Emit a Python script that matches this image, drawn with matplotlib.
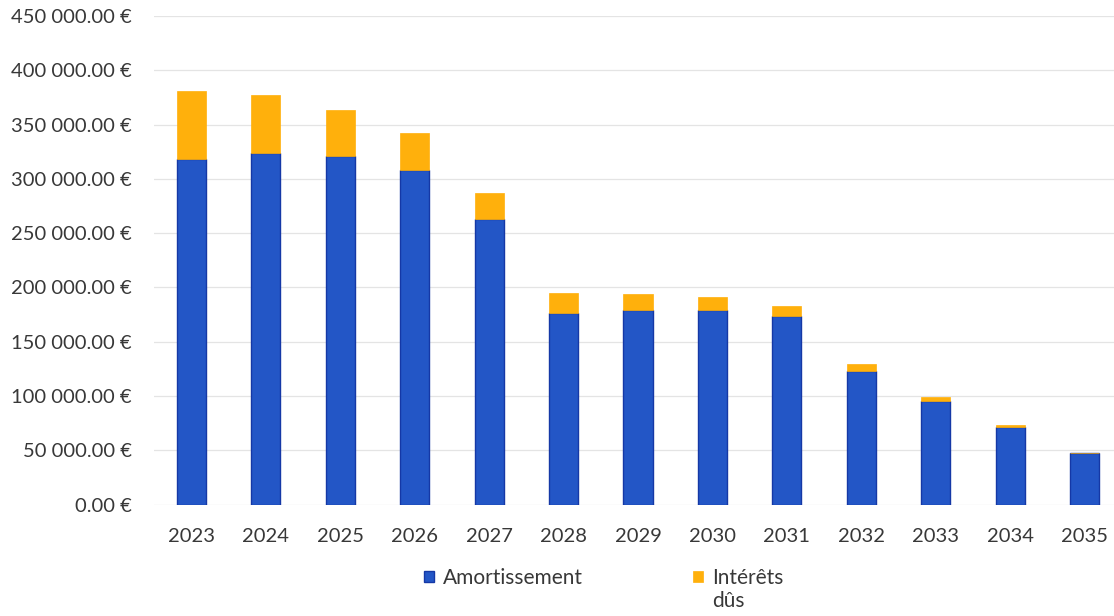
import matplotlib.pyplot as plt
from matplotlib.ticker import FuncFormatter, MultipleLocator

years = ['2023', '2024', '2025', '2026', '2027', '2028', '2029',
         '2030', '2031', '2032', '2033', '2034', '2035']
amortissement = [318300, 323800, 320700, 308100, 262700, 176700, 178900,
                 178900, 173900, 123300, 95100, 71400, 47200]
interets = [62900, 53100, 43000, 34100, 24000, 18400, 15300,
            12000, 8700, 6100, 4200, 2100, 300]

plt.rcParams['font.family'] = ['Lato', 'DejaVu Sans']

blue = '#2356c6'
orange = '#ffb00c'
text_col = '#383838'

fig = plt.figure(figsize=(11.14, 6.16), dpi=100)
ax = fig.add_axes([0.1382, 0.181, 0.869, 0.793])

x = range(len(years))
b1 = ax.bar(x, amortissement, width=0.39, color=blue, edgecolor='#1538a6',
            linewidth=1, label='Amortissement', zorder=3)
b2 = ax.bar(x, interets, width=0.39, bottom=amortissement, color=orange,
            edgecolor=orange, linewidth=0.5, label='Intérêts', zorder=3)

ax.set_xlim(-0.5, len(years) - 0.5)
ax.set_ylim(0, 450000)
ax.yaxis.set_major_locator(MultipleLocator(50000))
ax.yaxis.set_major_formatter(
    FuncFormatter(lambda v, p: f'{v:,.2f}'.replace(',', ' ') + ' €'))
ax.set_xticks(list(x))
ax.set_xticklabels(years)

ax.grid(axis='y', color='#e4e4e4', linewidth=0.9, zorder=0)
for s in ax.spines.values():
    s.set_visible(False)
ax.tick_params(axis='both', length=0, labelsize=14.5, colors=text_col)
ax.tick_params(axis='y', pad=16)
ax.tick_params(axis='x', pad=17)

leg = fig.legend(handles=[b1, b2], loc='upper center',
                 bbox_to_anchor=(0.542, 0.108), ncol=2, frameon=False,
                 fontsize=15, handlelength=0.45, handleheight=0.45,
                 handletextpad=0.45, columnspacing=5.3)
for t in leg.get_texts():
    t.set_color(text_col)

# second line of the interest label sits under "Intérêts"
fig.canvas.draw()
bb = leg.get_texts()[1].get_window_extent().transformed(fig.transFigure.inverted())
fig.text(bb.x0, bb.y0 - 0.004, 'dûs', fontsize=15, color=text_col,
         ha='left', va='top')

fig.savefig('out.png', dpi=100)
